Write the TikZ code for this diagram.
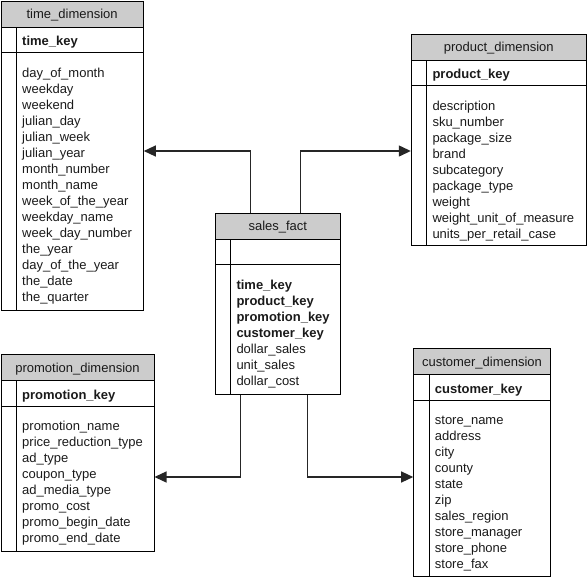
\documentclass[tikz,border=0pt]{standalone}
\usepackage{fontspec}
\setmainfont{Liberation Sans}
\usetikzlibrary{arrows.meta,fit}
\definecolor{headgray}{HTML}{CCCCCC}
\definecolor{txtcol}{HTML}{1A1A1A}
\tikzset{
  tablebox/.style={draw=black, line width=1pt, inner sep=0pt},
  sepline/.style={draw=black, line width=1pt},
  headtxt/.style={font=\fontsize{13}{16}\selectfont, text=txtcol, inner sep=0pt, anchor=base},
  keytxt/.style={font=\fontsize{13}{16}\selectfont\bfseries, text=txtcol, inner sep=0pt, anchor=base west},
  bodytxt/.style={font=\fontsize{13}{16}\selectfont, text=txtcol, inner sep=0pt, anchor=base west},
  conn/.style={draw=black!85, line width=1.3pt, -{Triangle[length=12pt,width=11pt]}}
}
% #1 name, #2 x1, #3 y1, #4 x2, #5 y2, #6 title, #7 key, #8 body list
\newcommand{\erdtable}[8]{%
  \fill[headgray] (#2,#3) rectangle (#4,#3+26);
  \node[tablebox, fit={(#2,#3) (#4,#5)}] (#1) {};
  \draw[sepline] (#2,#3+26) -- (#4,#3+26);
  \draw[sepline] (#2,#3+51.5) -- (#4,#3+51.5);
  \draw[sepline] (#2+15.5,#3+26) -- (#2+15.5,#5);
  \node[headtxt] (#1-title) at ({(#2+#4)/2},#3+17.5) {#6};
  \node[keytxt] (#1-key) at (#2+21,#3+44.5) {#7};
  \foreach \t [count=\i] in {#8} {
    \node[bodytxt] (#1-row\i) at (#2+21,{#3+76+16*(\i-1)}) {\t};
  }
}
\begin{document}
\begin{tikzpicture}[x=1pt,y=-1pt]
\useasboundingbox (0,0) rectangle (587,579);

\erdtable{td}{1}{1}{143.3}{310}{time\_dimension}{time\_key}
 {day\_of\_month,weekday,weekend,julian\_day,julian\_week,julian\_year,month\_number,month\_name,week\_of\_the\_year,weekday\_name,week\_day\_number,the\_year,day\_of\_the\_year,the\_date,the\_quarter}

\erdtable{pd}{411.3}{34}{586.3}{245.7}{product\_dimension}{product\_key}
 {description,sku\_number,package\_size,brand,subcategory,package\_type,weight,weight\_unit\_of\_measure,units\_per\_retail\_case}

\erdtable{sf}{215.3}{213.3}{340.3}{394}{sales\_fact}{}
 {\textbf{time\_key},\textbf{product\_key},\textbf{promotion\_key},\textbf{customer\_key},dollar\_sales,unit\_sales,dollar\_cost}

\erdtable{pm}{1}{354.7}{154}{551}{promotion\_dimension}{promotion\_key}
 {promotion\_name,price\_reduction\_type,ad\_type,coupon\_type,ad\_media\_type,promo\_cost,promo\_begin\_date,promo\_end\_date}

\erdtable{cd}{413.7}{348.7}{550.3}{576.7}{customer\_dimension}{customer\_key}
 {store\_name,address,city,county,state,zip,sales\_region,store\_manager,store\_phone,store\_fax}

\coordinate (b1) at (250.3,151);
\coordinate (b2) at (300.3,151);
\coordinate (b3) at (240.3,477);
\coordinate (b4) at (307.7,477);

\draw[conn] (sf.north -| b1) |- (td.east |- b1);
\draw[conn] (sf.north -| b2) |- (pd.west |- b2);
\draw[conn] (sf.south -| b3) |- (pm.east |- b3);
\draw[conn] (sf.south -| b4) |- (cd.west |- b4);
\end{tikzpicture}
\end{document}
